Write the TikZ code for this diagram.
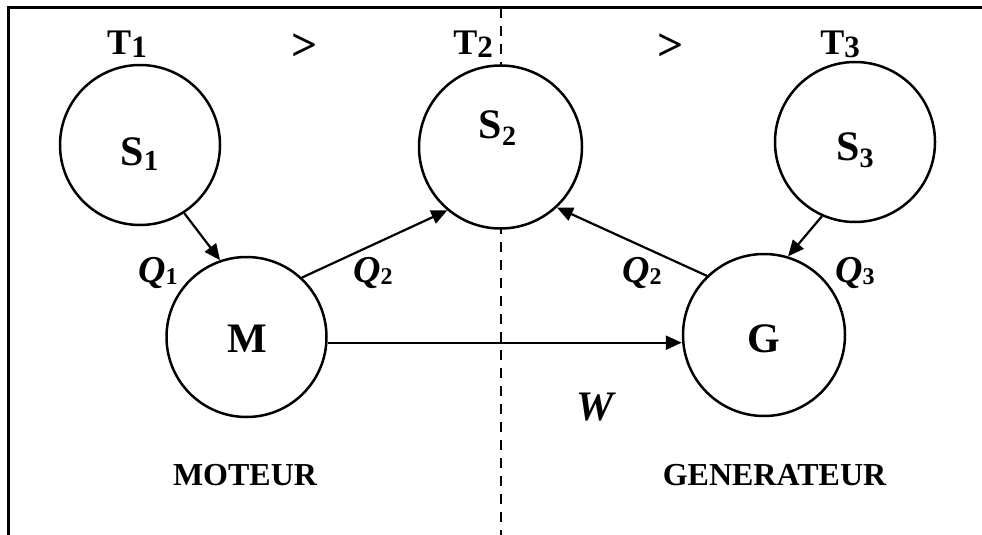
\documentclass[tikz,border=0pt]{standalone}
\usepackage{fontspec}
\setmainfont{Liberation Serif}
\usetikzlibrary{arrows.meta}
\newcommand{\myidx}[3]{\raisebox{-#1}{\fontsize{#2}{#2}\selectfont #3}}
\newcommand{\fsz}[1]{\fontsize{#1}{#1}\selectfont}
\begin{document}
\begin{tikzpicture}[x=1pt,y=-1pt,
  res/.style={circle,draw,fill=white,line width=2.5pt,minimum size=160pt,inner sep=0pt},
  flow/.style={line width=2.2pt,-{Triangle[length=16pt,width=14pt]}},
  txt/.style={anchor=base,inner sep=0pt,font=\bfseries},
  border/.style={line width=3pt},
  divider/.style={line width=2pt,dash pattern=on 10pt off 8pt}]
\useasboundingbox (0,0) rectangle (982,535);
\coordinate (tl) at (8,8);
\coordinate (tr) at (982,8);
\coordinate (bl) at (8,535);
\draw[border] (tr) -- (tl) -- (bl);
\coordinate (dt) at (501,8);
\coordinate (db) at (501,535);
\draw[divider] (dt) -- (db);
% reservoirs and machines
\node[res] (S1) at (140,145) {};
\node[res,minimum size=163pt] (S2) at (500.5,147) {};
\node[res] (S3) at (855,142) {};
\node[res] (M) at (246.5,337) {};
\node[res,minimum size=162pt] (G) at (764,335) {};
% labels inside circles
\node[txt] (lS1) at (139.5,165) {\fsz{42}S\myidx{5pt}{29}{1}};
\node[txt] (lS2) at (497.5,138) {\fsz{42}S\myidx{7pt}{28}{2}};
\node[txt] (lS3) at (855,160) {\fsz{42}S\myidx{7pt}{28}{3}};
\node[txt] (lM) at (247,352) {\fsz{42}M};
\node[txt] (lG) at (764,352) {\fsz{42}G};
% temperatures
\node[txt] (T1) at (127,55) {\fsz{36}T\myidx{3pt}{31}{1}};
\node[txt] (T2) at (473,55) {\fsz{36}T\myidx{3pt}{31}{2}};
\node[txt] (T3) at (840,55) {\fsz{36}T\myidx{3pt}{31}{3}};
\node[txt] (gt1) at (305,60) {\fsz{46}\textgreater};
\node[txt] (gt2) at (671,60) {\fsz{46}\textgreater};
% arrows
\draw[flow] (S1.-57) -- (M.109);
\draw[flow] (M.47) -- (S2.230);
\draw[flow] (G.134) -- (S2.-47);
\draw[flow] (S3.246) -- (G.73);
\draw[flow] (M.-4) -- (G.west |- M.-4);
% heat and work labels
\node[txt] (Q1) at (158,282) {\fsz{38}\itshape Q\myidx{2pt}{24}{\upshape 1}};
\node[txt] (Q2a) at (373,282) {\fsz{38}\itshape Q\myidx{2pt}{24}{\upshape 2}};
\node[txt] (Q2b) at (642,282) {\fsz{38}\itshape Q\myidx{2pt}{24}{\upshape 2}};
\node[txt] (Q3) at (855,282) {\fsz{38}\itshape Q\myidx{2pt}{24}{\upshape 3}};
\node[txt] (W) at (595,420) {\fsz{42}\itshape W};
\node[txt] (mot) at (245,485) {\fsz{32}MOTEUR};
\node[txt] (gen) at (774.5,485) {\fsz{32}GENERATEUR};
\end{tikzpicture}
\end{document}
